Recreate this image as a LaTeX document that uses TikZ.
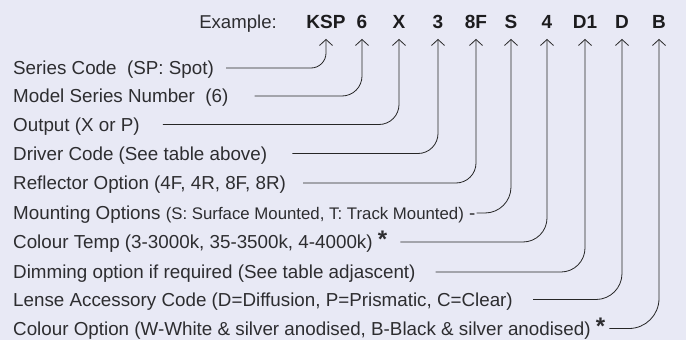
\documentclass[tikz,border=0pt]{standalone}
\usepackage{fontspec}
\setmainfont{Liberation Sans}
\usetikzlibrary{arrows.meta}

\definecolor{pagebg}{RGB}{232,233,245}
\definecolor{labeltext}{RGB}{45,45,48}
\definecolor{codetext}{RGB}{28,28,30}

\newcommand{\bigstar}{\raisebox{1pt}{\fontsize{24}{24}\selectfont\bfseries *}}

\tikzset{
    codepart/.style={font=\fontsize{19}{22}\selectfont\bfseries, text=codetext,
        inner sep=0pt, text height=13.5pt, text depth=0pt},
    label/.style={anchor=west, font=\fontsize{18.8}{22}\selectfont, text=labeltext,
        inner sep=0pt, text height=13.4pt, text depth=0pt},
    codeline/.style={draw=black!85, line width=0.8pt, rounded corners=20pt,
        -{Straight Barb[length=6pt, width=13pt, line width=0.8pt]}, shorten >=10.5pt}
}

\begin{document}
\begin{tikzpicture}[x=1pt, y=-1pt]
        \fill[pagebg] (0,0) rectangle (686,340);

        % Code parts
        \node (example) [codepart, anchor=east, font=\fontsize{18.6}{22}\selectfont, text=labeltext] at (277,21.5) {Example:};
        \node (ksp) [codepart] at (326,21.5) {KSP};
        \node (six) [codepart] at (362,21.5) {6};
        \node (xout) [codepart] at (399,21.5) {X};
        \node (three) [codepart] at (438,21.5) {3};
        \node (eightf) [codepart] at (476,21.5) {8F};
        \node (smount) [codepart] at (511,21.5) {S};
        \node (four) [codepart] at (547,21.5) {4};
        \node (done) [codepart] at (585,21.5) {D1};
        \node (dlens) [codepart] at (622,21.5) {D};
        \node (black) [codepart] at (659,21.5) {B};

        % Labels
        \node (series) [label] at (13,68) {Series Code\ \ (SP: Spot)};
        \node (model) [label] at (13,96) {Model Series Number\ \ (6)};
        \node (output) [label] at (13,124.5) {Output (X or P)};
        \node (driver) [label] at (13,153.5) {Driver Code (See table above)};
        \node (reflector) [label] at (13,183) {Reflector Option (4F, 4R, 8F, 8R)};
        \node (mounting) [label] at (13,213) {Mounting Options {\fontsize{16.8}{20}\selectfont(S: Surface Mounted, T: Track Mounted)} -};
        \node (temp) [label] at (13,242) {Colour Temp (3-3000k, 35-3500k, 4-4000k)\ \bigstar};
        \node (dimming) [label] at (13,272) {Dimming option if required (See table adjascent)};
        \node (lense) [label] at (13,299.5) {Lense Accessory Code (D=Diffusion, P=Prismatic, C=Clear)};
        \node (colour) [label] at (13,328.5) {Colour Option (W-White \& silver anodised, B-Black \& silver anodised) \bigstar};

        % Arrows
        \draw [codeline, rounded corners=15pt] ([xshift=12pt]series.east) -| (ksp.south);
        \draw [codeline] ([xshift=26pt]model.east) -| (six.south);
        \draw [codeline] ([xshift=23pt]output.east) -| (xout.south);
        \draw [codeline] ([xshift=25pt]driver.east) -| (three.south);
        \draw [codeline] ([xshift=17pt]reflector.east) -| (eightf.south);
        \draw [codeline, rounded corners=26pt] ([xshift=1pt]mounting.east) -| (smount.south);
        \draw [codeline, rounded corners=24pt] ([xshift=13pt]temp.east) -| (four.south);
        \draw [codeline, rounded corners=24pt] ([xshift=20pt]dimming.east) -| (done.south);
        \draw [codeline, rounded corners=26pt] ([xshift=20pt]lense.east) -| (dlens.south);
        \draw [codeline, rounded corners=30pt] ([xshift=4pt]colour.east) -| (black.south);

    \end{tikzpicture}
\end{document}
